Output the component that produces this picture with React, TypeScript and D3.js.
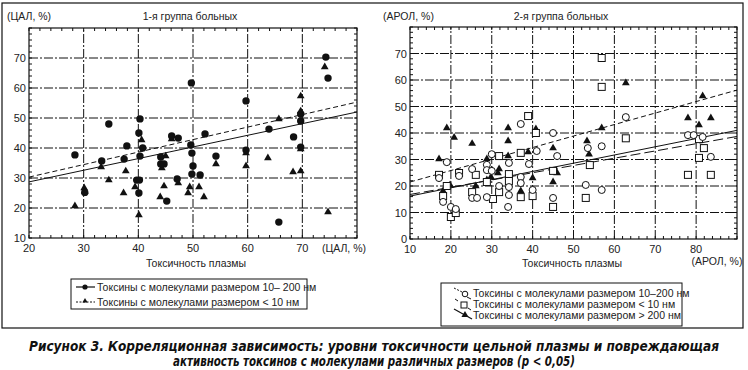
import React from "react";
import * as d3 from "d3";

// ---- data ----
// left panel: 1st group, x = plasma toxicity (ЦАЛ, %), y = ЦАЛ, %
const leftCircles: [number, number][] = [
  [28.4, 37.7], [30.2, 25.2], [33.3, 35.7], [34.6, 48.0], [37.4, 36.3], [37.9, 40.7],
  [39.7, 29.3], [40.2, 29.3], [40.1, 25.0], [40.3, 37.3], [40.8, 40.0], [40.1, 45.0],
  [40.3, 49.7], [44.1, 37.0], [44.1, 34.7], [44.7, 34.7], [45.2, 22.3], [46.1, 44.0],
  [47.3, 43.3], [47.1, 29.7], [49.6, 41.0], [49.8, 38.3], [49.7, 61.7], [50.0, 34.0],
  [49.8, 31.3], [51.3, 31.0], [52.2, 44.7], [54.2, 37.3], [59.7, 39.3], [59.7, 55.7],
  [63.9, 46.3], [65.7, 15.3], [68.4, 43.7], [69.7, 40.3], [69.7, 49.0], [69.7, 51.3],
  [74.3, 70.3], [74.7, 63.3],
];
const leftTriangles: [number, number][] = [
  [28.4, 20.7], [30.1, 26.7], [30.2, 25.5], [33.2, 33.7], [34.6, 29.3], [37.3, 25.0],
  [37.7, 32.3], [39.4, 27.0], [40.6, 42.7], [40.1, 17.7], [44.0, 23.7], [44.7, 27.3],
  [45.0, 37.3], [44.3, 33.3], [46.1, 43.0], [47.3, 28.3], [49.1, 25.0], [49.4, 27.0],
  [51.1, 27.0], [52.0, 23.7], [54.2, 34.7], [59.7, 34.0], [59.7, 38.3], [63.7, 36.7],
  [65.7, 49.7], [68.3, 32.0], [69.7, 32.3], [69.7, 39.7], [69.7, 52.3], [69.7, 57.3],
  [74.1, 67.0], [74.7, 18.7],
];
// regression lines [x0, y0, x1, y1]
const leftFitCircles = [20, 28.7, 80, 52.0];
const leftFitTriangles = [20, 30.3, 80, 55.3];

// right panel: 2nd group, x = plasma toxicity (АРОЛ, %), y = АРОЛ, %
const rightCircles: [number, number][] = [
  [17.1, 23.0], [18.1, 14.0], [19.0, 29.0], [20.0, 12.1], [21.2, 11.3], [22.0, 23.8],
  [25.2, 26.4], [25.2, 15.5], [26.4, 15.5], [28.8, 28.0], [28.8, 26.0], [28.8, 15.8],
  [30.0, 32.0], [30.0, 25.7], [31.8, 20.0], [34.2, 28.7], [34.2, 19.6], [34.2, 16.6],
  [34.0, 12.1], [37.1, 43.4], [37.1, 23.4], [37.1, 21.1], [39.1, 28.3], [41.0, 33.2],
  [40.0, 18.5], [45.0, 40.0], [46.0, 31.3], [45.0, 15.5], [53.5, 34.3], [53.0, 20.4],
  [56.9, 35.0], [56.9, 18.5], [62.8, 46.0], [78.0, 39.2], [79.4, 39.2], [81.6, 38.5],
  [83.6, 31.0],
];
const rightSquares: [number, number][] = [
  [17.1, 24.2], [19.0, 20.0], [18.1, 16.2], [20.0, 8.3], [21.2, 9.8], [22.0, 24.9],
  [26.1, 24.2], [25.2, 17.7], [28.8, 21.5], [30.3, 15.1], [31.8, 31.3], [31.8, 17.7],
  [34.2, 24.5], [34.2, 21.9], [37.1, 32.5], [37.1, 15.8], [38.9, 46.4], [40.8, 40.0],
  [40.0, 16.2], [45.0, 25.7], [45.0, 12.1], [54.0, 27.9], [53.0, 15.5], [56.9, 68.3],
  [56.9, 57.4], [62.8, 38.0], [78.0, 24.2], [80.7, 37.7], [81.9, 34.3], [80.7, 30.6],
  [83.6, 24.2],
];
const rightTriangles: [number, number][] = [
  [17.1, 30.2], [18.1, 18.1], [19.0, 41.9], [19.8, 20.4], [20.8, 38.3], [25.2, 36.0],
  [26.1, 20.0], [28.8, 30.2], [28.8, 22.3], [29.8, 23.4], [30.0, 26.0], [31.8, 26.4],
  [31.5, 24.9], [34.0, 41.9], [34.0, 37.0], [34.0, 31.3], [37.1, 18.1], [38.9, 32.8],
  [40.8, 41.5], [40.0, 23.0], [45.0, 34.3], [46.0, 24.9], [45.0, 21.5], [53.3, 37.0],
  [53.8, 32.0], [56.9, 41.9], [62.8, 58.9], [78.0, 45.7], [80.7, 43.0], [81.6, 54.0],
  [83.6, 45.7],
];
const rightFitTriangles = [10, 21.5, 90, 56.2];
const rightFitCircles = [10, 16.2, 90, 41.0];
const rightFitSquares = [10, 16.8, 90, 38.7];

const leftXTicks = [20, 30, 40, 50, 60, 70];
const leftYTicks = [10, 20, 30, 40, 50, 60, 70];
const rightXTicks = [10, 20, 30, 40, 50, 60, 70, 80];
const rightYTicks = [0, 10, 20, 30, 40, 50, 60, 70];

const leftLegend = [
  "Токсины с молекулами размером 10– 200 нм",
  "Токсины с молекулами размером < 10 нм",
];
const rightLegend = [
  "Токсины с молекулами размером 10–200 нм",
  "Токсины с молекулами размером < 10 нм",
  "Токсины с молекулами размером > 200 нм",
];
const caption = [
  "Рисунок 3. Корреляционная зависимость: уровни токсичности цельной плазмы и повреждающая",
  "активность токсинов с молекулами различных размеров (p < 0,05)",
];

const FONT = "'Liberation Sans', Arial, sans-serif";
const TXT = "#222";
const GRID_DASH = "9,2,2,2";

const tri = (size: number) => d3.symbol(d3.symbolTriangle, size)() as string;

type Sc = d3.ScaleLinear<number, number>;

function Panel(props: {
  x: Sc;
  y: Sc;
  xTicks: number[];
  yTicks: number[];
  xMinor: number;
  yMinor: number;
}) {
  const { x, y, xTicks, yTicks, xMinor, yMinor } = props;
  const [x0, x1] = x.range();
  const [y0, y1] = y.range();
  const [dx0, dx1] = x.domain();
  const [dy0, dy1] = y.domain();
  const xm = d3.range(dx0, dx1 + 0.01, xMinor);
  const ym = d3.range(dy0, dy1 + 0.01, yMinor);
  return (
    <g>
      {xTicks.slice(1).map((t) => (
        <line key={"gx" + t} x1={x(t)} x2={x(t)} y1={y0} y2={y1} stroke="#111" strokeWidth={1} strokeDasharray={GRID_DASH} />
      ))}
      {yTicks.slice(1).map((t) => (
        <line key={"gy" + t} x1={x0} x2={x1} y1={y(t)} y2={y(t)} stroke="#111" strokeWidth={1} strokeDasharray={GRID_DASH} />
      ))}
      {xm.map((t) => (
        <g key={"mx" + t}>
          <line x1={x(t)} x2={x(t)} y1={y0} y2={y0 - 3} stroke="#111" />
          <line x1={x(t)} x2={x(t)} y1={y1} y2={y1 + 3} stroke="#111" />
        </g>
      ))}
      {ym.map((t) => (
        <g key={"my" + t}>
          <line x1={x0} x2={x0 + 3} y1={y(t)} y2={y(t)} stroke="#111" />
          <line x1={x1} x2={x1 - 3} y1={y(t)} y2={y(t)} stroke="#111" />
        </g>
      ))}
      {xTicks.map((t) => (
        <text key={"tx" + t} x={x(t)} y={y0 + 14} textAnchor="middle" fontSize={11} fill={TXT}>
          {t}
        </text>
      ))}
      {yTicks.map((t) => (
        <text key={"ty" + t} x={x0 - 3} y={y(t) + 4} textAnchor="end" fontSize={11} fill={TXT}>
          {t}
        </text>
      ))}
    </g>
  );
}

function Fit({ f, x, y, dash, w = 1 }: { f: number[]; x: Sc; y: Sc; dash?: string; w?: number }) {
  return (
    <line x1={x(f[0])} y1={y(f[1])} x2={x(f[2])} y2={y(f[3])} stroke="#111" strokeWidth={w} strokeDasharray={dash} />
  );
}

const App = () => {
  const xL = d3.scaleLinear().domain([20, 80]).range([29, 357]);
  const yL = d3.scaleLinear().domain([10, 80]).range([238, 28]);
  const xR = d3.scaleLinear().domain([10, 90]).range([410, 737]);
  const yR = d3.scaleLinear().domain([0, 80]).range([239, 27]);

  return (
    <svg width={748} height={370} style={{ display: "block", position: "absolute", left: 0, top: 0 }} fontFamily={FONT}>
      <rect width={748} height={370} fill="#fff" />
      <rect x={2} y={3} width={741} height={325} fill="none" stroke="#111" strokeWidth={1.2} />

      {/* ---------- left panel ---------- */}
      <text x={7} y={20} fontSize={10.5} fill={TXT}>(ЦАЛ, %)</text>
      <text x={190} y={20} fontSize={10.5} fill={TXT} textAnchor="middle">1-я группа больных</text>
      <Panel x={xL} y={yL} xTicks={leftXTicks} yTicks={leftYTicks} xMinor={2} yMinor={2} />
      <text x={344} y={252} fontSize={10.5} fill={TXT} textAnchor="middle">(ЦАЛ, %)</text>
      <text x={196} y={267} fontSize={10.5} fill={TXT} textAnchor="middle">Токсичность плазмы</text>
      <Fit f={leftFitCircles} x={xL} y={yL} />
      <Fit f={leftFitTriangles} x={xL} y={yL} dash="5,3" />
      {leftTriangles.map((d, i) => (
        <path key={"lt" + i} d={tri(26)} transform={`translate(${xL(d[0])},${yL(d[1])})`} fill="#111" />
      ))}
      {leftCircles.map((d, i) => (
        <circle key={"lc" + i} cx={xL(d[0])} cy={yL(d[1])} r={3.7} fill="#111" />
      ))}
      <rect x={29} y={28} width={328} height={210} fill="none" stroke="#111" strokeWidth={1.2} />

      {/* left legend */}
      <rect x={71} y={279} width={236} height={30} fill="#fff" stroke="#111" strokeWidth={1} />
      <line x1={76} x2={95} y1={287} y2={287} stroke="#111" strokeWidth={1.2} />
      <circle cx={85} cy={287} r={2.6} fill="#111" />
      <line x1={76} x2={95} y1={302} y2={302} stroke="#111" strokeWidth={1} strokeDasharray="2,1.5" />
      <path d={tri(12)} transform="translate(85,301)" fill="#111" />
      {leftLegend.map((t, i) => (
        <text key={"ll" + i} x={97} y={291 + i * 15} fontSize={10.5} fill={TXT}>{t}</text>
      ))}

      {/* ---------- right panel ---------- */}
      <text x={383} y={20} fontSize={10.5} fill={TXT}>(АРОЛ, %)</text>
      <text x={561} y={20} fontSize={10.5} fill={TXT} textAnchor="middle">2-я группа больных</text>
      <Panel x={xR} y={yR} xTicks={rightXTicks} yTicks={rightYTicks} xMinor={2} yMinor={2} />
      <text x={717} y={265} fontSize={10.5} fill={TXT} textAnchor="middle">(АРОЛ, %)</text>
      <text x={572} y={267} fontSize={10.5} fill={TXT} textAnchor="middle">Токсичность плазмы</text>
      <Fit f={rightFitTriangles} x={xR} y={yR} dash="5,3" />
      <Fit f={rightFitCircles} x={xR} y={yR} />
      <Fit f={rightFitSquares} x={xR} y={yR} dash="10,4" />
      {rightTriangles.map((d, i) => (
        <path key={"rt" + i} d={tri(26)} transform={`translate(${xR(d[0])},${yR(d[1])})`} fill="#111" />
      ))}
      {rightSquares.map((d, i) => (
        <rect key={"rs" + i} x={xR(d[0]) - 3.5} y={yR(d[1]) - 3.5} width={7} height={7} fill="#fff" stroke="#111" strokeWidth={1} />
      ))}
      {rightCircles.map((d, i) => (
        <circle key={"rc" + i} cx={xR(d[0])} cy={yR(d[1])} r={3.5} fill="#fff" stroke="#111" strokeWidth={1} />
      ))}
      <rect x={410} y={27} width={327} height={212} fill="none" stroke="#111" strokeWidth={1.2} />

      {/* right legend */}
      <rect x={441} y={283} width={241} height={43} fill="#fff" stroke="#111" strokeWidth={1} />
      <line x1={454} x2={462} y1={288} y2={292} stroke="#111" strokeDasharray="2,1.5" />
      <circle cx={465} cy={294} r={2.8} fill="#fff" stroke="#111" />
      <line x1={467} x2={471} y1={297} y2={299} stroke="#111" />
      <line x1={455} x2={458} y1={299} y2={301} stroke="#111" />
      <rect x={461} y={302} width={6} height={6} fill="#fff" stroke="#111" />
      <line x1={468} x2={471} y1={308} y2={310} stroke="#111" />
      <line x1={454} x2={472} y1={309} y2={319} stroke="#111" strokeWidth={1.2} />
      <path d={tri(22)} transform="translate(465,315)" fill="#111" />
      {rightLegend.map((t, i) => (
        <text key={"rl" + i} x={473} y={297 + i * 10.8} fontSize={10.5} fill={TXT}>{t}</text>
      ))}

      {/* caption */}
      {caption.map((t, i) => (
        <text
          key={"cap" + i}
          x={374}
          y={351 + i * 15}
          textAnchor="middle"
          fontSize={14}
          fontWeight="bold"
          fontStyle="italic"
          fontFamily="'Liberation Sans Narrow', 'Arial Narrow', 'DejaVu Sans Condensed', sans-serif"
          fill="#111"
          textLength={i === 0 ? 690 : 402}
          lengthAdjust="spacingAndGlyphs"
        >
          {t}
        </text>
      ))}
    </svg>
  );
};

export default App;
